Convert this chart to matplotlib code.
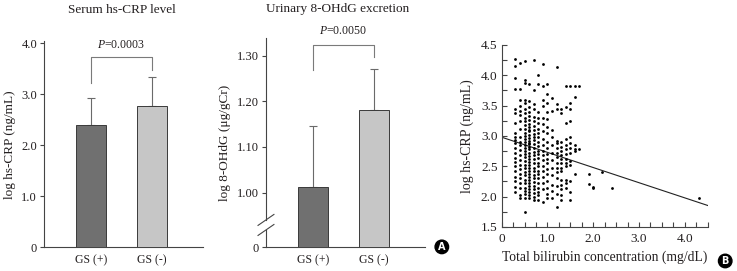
import matplotlib
matplotlib.use("Agg")
import matplotlib.pyplot as plt
import matplotlib.transforms as mtransforms
from matplotlib.ticker import MultipleLocator

groups = ["GS (+)", "GS (-)"]
crp_mean = [2.40, 2.77]
crp_sd = [0.52, 0.58]
crp_p = "0.0003"
ohdg_mean = [1.013, 1.181]
ohdg_sd = [0.132, 0.090]
ohdg_p = "0.0050"

# bilirubin is recorded in 0.1 mg/dL steps, so the dots sit in columns
bili_columns = [0.3, 0.4, 0.5, 0.6, 0.7, 0.8, 0.9, 1.0, 1.1, 1.2, 1.3, 1.4, 1.5, 1.6, 1.7]
crp_by_column = [
    [4.27, 4.15, 3.95, 3.78, 3.45, 3.38, 3.22, 3.05, 2.98, 2.93, 2.88, 2.80, 2.72, 2.64, 2.57, 2.50,
     2.42, 2.33, 2.25, 2.16, 2.08],
    [4.20, 3.78, 3.60, 3.50, 3.42, 3.35, 3.25, 3.12, 2.98, 2.90, 2.85, 2.77, 2.68, 2.60, 2.52, 2.45,
     2.38, 2.30, 2.22, 2.15, 2.02, 1.98],
    [4.23, 3.92, 3.88, 3.60, 3.55, 3.45, 3.38, 3.30, 3.25, 3.18, 3.12, 3.05, 3.00, 2.95, 2.90, 2.85,
     2.80, 2.75, 2.70, 2.65, 2.58, 2.52, 2.47, 2.40, 2.35, 2.28, 2.22, 2.15, 2.10, 2.05, 1.98, 1.75],
    [3.85, 3.58, 3.48, 3.40, 3.33, 3.27, 3.20, 3.15, 3.10, 3.08, 3.02, 2.97, 2.92, 2.88, 2.87, 2.82,
     2.78, 2.72, 2.67, 2.62, 2.57, 2.52, 2.47, 2.42, 2.37, 2.32, 2.27, 2.22, 2.17, 2.12, 2.07, 2.02, 1.97],
    [4.25, 3.75, 3.52, 3.45, 3.32, 3.24, 3.17, 3.10, 3.03, 2.98, 2.93, 2.86, 2.80, 2.74, 2.68, 2.62,
     2.55, 2.48, 2.42, 2.36, 2.30, 2.24, 2.18, 2.12, 2.06, 2.00, 1.95],
    [4.00, 3.85, 3.40, 3.30, 3.22, 3.12, 3.05, 2.98, 2.90, 2.83, 2.76, 2.70, 2.63, 2.56, 2.50, 2.43,
     2.37, 2.30, 2.23, 2.15, 2.08, 2.02, 1.95],
    [4.18, 3.82, 3.60, 3.50, 3.30, 3.20, 3.08, 2.95, 2.85, 2.75, 2.68, 2.60, 2.50, 2.42, 2.32, 2.22,
     2.12, 1.92],
    [3.85, 3.70, 3.55, 3.40, 3.28, 3.15, 3.05, 2.90, 2.80, 2.70, 2.62, 2.55, 2.45, 2.38, 2.25, 2.15,
     2.05, 1.97],
    [3.62, 3.42, 3.10, 2.98, 2.85, 2.72, 2.60, 2.48, 2.35, 2.20, 2.10, 1.98],
    [4.13, 3.52, 3.44, 2.92, 2.88, 2.80, 2.72, 2.65, 2.55, 2.48, 2.40, 2.30, 2.18, 2.05, 1.83],
    [3.45, 3.38, 2.90, 2.82, 2.75, 2.68, 2.62, 2.55, 2.48, 2.42, 2.28, 2.20, 2.12, 2.02, 1.95],
    [3.82, 3.48, 3.22, 2.95, 2.85, 2.78, 2.70, 2.62, 2.55, 2.50, 2.28, 2.22, 2.15],
    [3.83, 3.55, 3.45, 3.25, 2.98, 2.88, 2.80, 2.72, 2.58, 2.52, 2.25, 2.08, 1.95],
    [3.82, 3.65, 2.85, 2.78, 2.75, 2.38],
    [3.82, 2.78],
]
bili_outliers = [1.9, 2.2, 1.9, 2.0, 2.0, 2.4, 4.3]
crp_outliers = [2.38, 2.40, 2.21, 2.16, 2.14, 2.15, 1.98]
fit_intercept = 2.98
fit_slope = -0.25

INK = "#231f20"
SERIF = ["Liberation Serif", "DejaVu Serif"]


def style_bar_axes(ax):
    """
    hides top/right spines and sets the outward tick look shared by both bar panels
    :param ax: matplotlib axes
    :return: none
    """
    for side in ("top", "right"):
        ax.spines[side].set_visible(False)
    for side in ("left", "bottom"):
        ax.spines[side].set_linewidth(0.8)
        ax.spines[side].set_color("#444444")
    ax.tick_params(axis="y", direction="out", length=3, width=0.8, colors="#444444",
                   labelcolor=INK, labelsize=9, pad=2)
    ax.tick_params(axis="x", length=0, labelcolor=INK, labelsize=8.5, pad=5)


def draw_bars(ax, means, sds, floor):
    """
    draws the two group bars with an upper-only error whisker
    :param ax: matplotlib axes
    :param means: list of bar heights
    :param sds: list of upper error lengths
    :param floor: value where the bars start
    :return: none
    """
    pos = list(range(len(groups)))
    heights = [m - floor for m in means]
    ax.bar(pos, heights, bottom=floor, width=0.494, color=["#707070", "#c6c6c6"],
           edgecolor="#3a3a3a", linewidth=0.7, zorder=3)
    ax.errorbar(pos, means, yerr=[[0] * len(sds), sds], fmt="none", ecolor="#6a6a6a",
                elinewidth=0.8, capsize=3, capthick=0.8, zorder=2)
    ax.set_xticks(pos)
    ax.set_xticklabels(groups)
    ax.set_xlim(-0.774, 1.845)


def draw_bracket(ax, left_y, right_y, top_y, text_y, p_text):
    ax.plot([0, 0, 1, 1], [left_y, top_y, top_y, right_y], color="#7a7a7a", lw=0.8,
            clip_on=False)
    ax.text(0.5, text_y, r"$P$=" + p_text, ha="center", va="center", fontsize=8.5,
            color=INK, clip_on=False)


def plot_crp(fig):
    ax = fig.add_axes([0.0597, 0.0875, 0.2157, 0.760])
    style_bar_axes(ax)
    draw_bars(ax, crp_mean, crp_sd, 0)
    ax.set_ylim(0, 4.04)
    ax.set_yticks([0, 1, 2, 3, 4])
    ax.set_yticklabels(["0", "1.0", "2.0", "3.0", "4.0"])
    ax.set_ylabel("log hs-CRP (ng/mL)", fontsize=9.5, color=INK, labelpad=4)
    draw_bracket(ax, 3.22, 3.47, 3.73, 3.97, crp_p)
    fig.text(0.1655, 0.962, "Serum hs-CRP level", ha="center", va="center", fontsize=9.5,
             color=INK)


def plot_ohdg(fig):
    ax = fig.add_axes([0.3609, 0.0875, 0.2157, 0.771])
    style_bar_axes(ax)
    floor = 0.88
    draw_bars(ax, ohdg_mean, ohdg_sd, floor)
    ax.set_ylim(floor, 1.338)
    ax.set_yticks([floor, 1.0, 1.1, 1.2, 1.3])
    ax.set_yticklabels(["0", "1.00", "1.10", "1.20", "1.30"])
    ax.set_ylabel("log 8-OHdG (\u03bcg/gCr)", fontsize=9.5, color=INK, labelpad=4)
    # broken axis: gap in the left spine with two slashes
    ax.spines["left"].set_bounds(0.94, 1.338)
    trans = mtransforms.blended_transform_factory(ax.transAxes, ax.transData)
    ax.plot([0, 0], [floor, 0.918], color="#444444", lw=0.8, transform=trans, clip_on=False)
    for yb in (0.918, 0.94):
        ax.plot([-0.05, 0.05], [yb - 0.012, yb + 0.012], color="#444444", lw=0.8,
                transform=trans, clip_on=False)
    draw_bracket(ax, 1.268, 1.298, 1.324, 1.355, ohdg_p)
    fig.text(0.458, 0.966, "Urinary 8-OHdG excretion", ha="center", va="center",
             fontsize=9.5, color=INK)


def plot_scatter(fig):
    ax = fig.add_axes([0.6807, 0.1624, 0.2795, 0.6716])
    xs = []
    ys = []
    for col, vals in zip(bili_columns, crp_by_column):
        xs += [col] * len(vals)
        ys += vals
    xs += bili_outliers
    ys += crp_outliers
    ax.scatter(xs, ys, s=4, color="black", linewidths=0, zorder=3)
    ax.plot([0, 4.5], [fit_intercept, fit_intercept + fit_slope * 4.5], color="#222222",
            lw=0.8, zorder=2)
    ax.set_xlim(0, 4.5)
    ax.set_ylim(1.5, 4.5)
    for side in ("top", "right"):
        ax.spines[side].set_visible(False)
    for side in ("left", "bottom"):
        ax.spines[side].set_linewidth(0.8)
        ax.spines[side].set_color("#444444")
    ax.set_xticks([0, 1, 2, 3, 4])
    ax.set_xticklabels(["0", "1.0", "2.0", "3.0", "4.0"])
    ax.xaxis.set_minor_locator(MultipleLocator(0.25))
    ax.set_yticks([1.5, 2.0, 2.5, 3.0, 3.5, 4.0, 4.5])
    ax.set_yticklabels(["1.5", "2.0", "2.5", "3.0", "3.5", "4.0", "4.5"])
    ax.yaxis.set_minor_locator(MultipleLocator(0.25))
    ax.tick_params(which="both", direction="in", length=3.5, width=0.8, colors="#444444",
                   labelcolor=INK, labelsize=9.5)
    ax.tick_params(axis="x", pad=4)
    ax.tick_params(axis="y", pad=3)
    ax.set_xlabel("Total bilirubin concentration (mg/dL)", fontsize=9.8, color=INK, labelpad=4)
    ax.set_ylabel("log hs-CRP (ng/mL)", fontsize=10, color=INK, labelpad=5)


def main():
    plt.rcParams["font.family"] = SERIF
    plt.rcParams["mathtext.fontset"] = "custom"
    plt.rcParams["mathtext.rm"] = "Liberation Serif"
    plt.rcParams["mathtext.it"] = "Liberation Serif:italic"
    fig = plt.figure(figsize=(7.37, 2.71), dpi=100)
    plot_crp(fig)
    plot_ohdg(fig)
    plot_scatter(fig)
    badge = dict(boxstyle="circle,pad=0.18", fc="black", ec="black")
    fig.text(0.5995, 0.089, "A", ha="center", va="center", fontsize=7, color="white",
             fontweight="bold", family="DejaVu Sans", bbox=badge)
    fig.text(0.984, 0.037, "B", ha="center", va="center", fontsize=7, color="white",
             fontweight="bold", family="DejaVu Sans", bbox=badge)
    fig.savefig("out.png", dpi=100)


if __name__ == '__main__':
    main()
